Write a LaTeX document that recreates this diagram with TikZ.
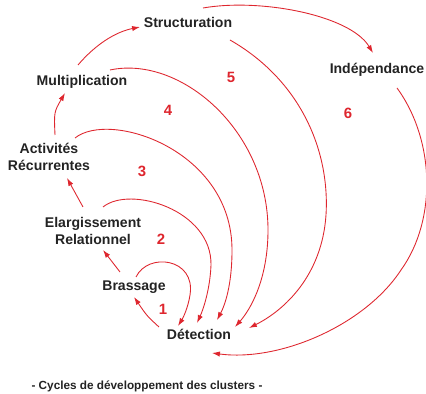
\documentclass[tikz,border=0pt]{standalone}
\usepackage{fontspec}
\setmainfont{Liberation Sans}
\usetikzlibrary{arrows.meta,calc}

\definecolor{cyclered}{RGB}{222,38,46}
\definecolor{labelgray}{RGB}{35,35,35}

\begin{document}
\begin{tikzpicture}[
  >={Latex[length=4.5pt,width=3pt]},
  x=0.02cm,
  y=-0.02cm,
  stage/.style={font=\fontsize{8}{9.8}\selectfont\bfseries,text=labelgray,align=center,inner sep=1pt},
  num/.style={font=\fontsize{8.5}{10}\selectfont\bfseries,text=cyclered},
  link/.style={->,draw=cyclered,line width=0.5pt},
  cycleline/.style={->,draw=cyclered,line width=0.5pt},
  captiontxt/.style={font=\fontsize{6.7}{8}\selectfont\bfseries,text=labelgray}
]
  \useasboundingbox (0,0) rectangle (426,394);

  \node[stage] (det) at (199,334) {Détection};
  \node[stage] (bra) at (134,287) {Brassage};
  \node[stage] (ela) at (93,231) {Elargissement\\Relationnel};
  \node[stage] (act) at (49,157) {Activités\\Récurrentes};
  \node[stage] (mul) at (82,82) {Multiplication};
  \node[stage] (str) at (188,22) {Structuration};
  \node[stage] (ind) at (377,70) {Indépendance};

  \node[num] (n1) at (163,309) {1};
  \node[num] (n2) at (161,239) {2};
  \node[num] (n3) at (142,171) {3};
  \node[num] (n4) at (168,110) {4};
  \node[num] (n5) at (231,77) {5};
  \node[num] (n6) at (348,113) {6};

  \draw[link] ($(det)+(-40,-7)$) .. controls ($(det)+(-52,-18)$) .. ($(bra)+(0,10)$);
  \draw[link] ($(bra)+(-14,-15)$) -- ($(ela)+(10,19)$);
  \draw[link] ($(ela)+(-10,-24)$) -- ($(act)+(18,21)$);
  \draw[link] ($(act)+(6,-22)$) .. controls ($(act)+(5,-45)$) .. ($(mul)+(-17,11)$);
  \draw[link] ($(mul)+(-4,-17)$) .. controls ($(mul)+(13,-37)$) and ($(mul)+(33,-50)$) .. ($(str)+(-48,5)$);
  \draw[link] ($(str)+(15,-14)$) .. controls ($(str)+(72,-24)$) and ($(str)+(162,-7)$) .. ($(ind)+(-4,-17)$);

  \draw[cycleline] ($(bra)+(2,-10)$) .. controls ($(bra)+(14,-35)$) and ($(bra)+(62,-29)$)
    .. ($(bra)+(56,8)$) .. controls ($(bra)+(54,21)$) and ($(bra)+(49,31)$) .. ($(det)+(-21,-8)$);
  \draw[cycleline] ($(ela)+(10,-24)$) .. controls ($(ela)+(37,-46)$) and ($(ela)+(119,-21)$)
    .. ($(ela)+(118,34)$) .. controls ($(ela)+(117,59)$) and ($(ela)+(110,79)$) .. ($(det)+(-2,-11)$);
  \draw[cycleline] ($(act)+(26,-19)$) .. controls ($(act)+(61,-47)$) and ($(act)+(183,-7)$)
    .. ($(act)+(183,93)$) .. controls ($(act)+(183,128)$) and ($(act)+(176,148)$) .. ($(det)+(18,-14)$);
  \draw[cycleline] ($(mul)+(28,-12)$) .. controls ($(mul)+(98,-27)$) and ($(mul)+(186,48)$)
    .. ($(mul)+(186,148)$) .. controls ($(mul)+(186,198)$) and ($(mul)+(168,228)$) .. ($(det)+(36,-7)$);
  \draw[cycleline] ($(str)+(42,18)$) .. controls ($(str)+(112,58)$) and ($(str)+(142,128)$)
    .. ($(str)+(138,193)$) .. controls ($(str)+(134,253)$) and ($(str)+(97,288)$) .. ($(det)+(50,-6)$);
  \draw[cycleline] ($(ind)+(20,18)$) .. controls ($(ind)+(58,70)$) and ($(ind)+(60,150)$)
    .. ($(ind)+(24,200)$) .. controls ($(ind)+(-12,255)$) and ($(ind)+(-97,292)$) .. ($(det)+(13,19)$);

  \node[captiontxt] (cap) at (147,386) {- Cycles de développement des clusters -};
\end{tikzpicture}
\end{document}
